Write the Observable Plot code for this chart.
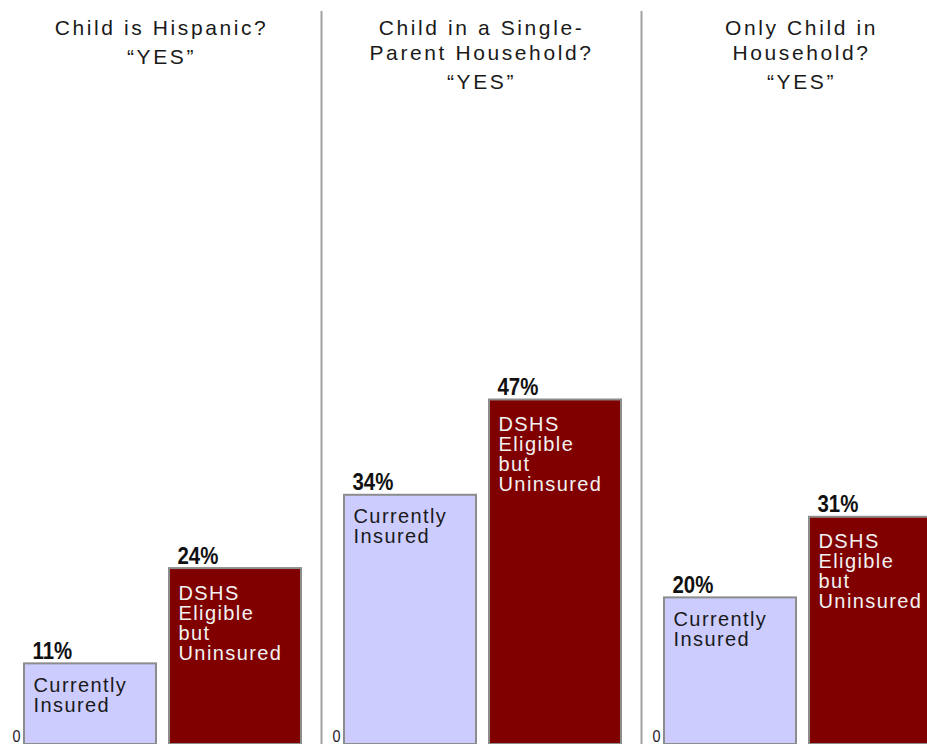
<!DOCTYPE html>
<html>
<head>
<meta charset="utf-8">
<script src="https://cdn.jsdelivr.net/npm/d3@7"></script>
<script src="https://cdn.jsdelivr.net/npm/@observablehq/plot@0.6"></script>
<style>
  html, body { margin: 0; padding: 0; background: #fff; overflow: hidden; width: 927px; height: 744px; }
  #chart { width: 927px; height: 744px; overflow: hidden; }
  g[font-size="21"] text { letter-spacing: 2.6px; }
  g[font-size="20"] text { letter-spacing: 1.4px; }
</style>
</head>
<body>
<div id="chart"></div>
<script>
// ---- data ----
const groups = ["Child is Hispanic?", "Child in a Single-Parent Household?", "Only Child in Household?"];
const titleLines = [["Child is Hispanic?"], ["Child in a Single-", "Parent Household?"], ["Only Child in", "Household?"]];
const answer = "\u201CYES\u201D";
const series = ["Currently Insured", "DSHS Eligible but Uninsured"];
const seriesLabels = ["Currently\nInsured", "DSHS\nEligible\nbut\nUninsured"];
const insured = [11, 34, 20];
const eligible = [24, 47, 31];
const yTicks = [0];

// ---- table built from the arrays ----
const rows = groups.flatMap((g, i) => [
  {group: g, series: series[0], value: insured[i]},
  {group: g, series: series[1], value: eligible[i]}
]);
const tickRows = groups.flatMap(g => yTicks.map(t => ({group: g, tick: t})));

const fxRange = [1, 961];
const xRange = [23, 300];
const xPadInner = 0.09;
const xStep = (xRange[1] - xRange[0]) / (series.length - xPadInner);
const xBand = xStep * (1 - xPadInner);
const colors = ["#CCCCFF", "#800000"];
const labelFills = ["#1a1a1a", "#f2f2f2"];
const labelDy = [14, 17];

const labelMark = (k) => Plot.text(rows.filter(d => d.series === series[k]), {
  fx: "group", x: "series", y: "value",
  text: () => seriesLabels[k],
  textAnchor: "start", lineAnchor: "top", dx: -xBand / 2 + 9, dy: labelDy[k],
  fontFamily: "Liberation Sans, Arial, sans-serif", fontSize: 20, lineHeight: 1,
  fill: labelFills[k]
});

const chart = Plot.plot({
  width: 927,
  height: 744,
  marginTop: 11, marginBottom: 0, marginLeft: 0, marginRight: 0,
  style: {background: "#fff", fontFamily: "Liberation Sans, Arial, sans-serif"},
  fx: {domain: groups, range: fxRange, padding: 0, axis: null},
  x: {domain: series, range: xRange, paddingInner: xPadInner, paddingOuter: 0, axis: null},
  y: {domain: [0, 100], axis: null},
  color: {domain: series, range: colors},
  marks: [
    Plot.ruleX(groups.slice(1), {fx: d => d, x: () => series[0], dx: -(xRange[0] + xBand / 2), stroke: "#a0a0a0", strokeWidth: 2}),
    Plot.barY(rows, {fx: "group", x: "series", y: "value", fill: "series", stroke: "#8c8c8c", strokeWidth: 2}),
    Plot.text(rows, {
      fx: "group", x: "series", y: "value", text: d => d.value + "%",
      textAnchor: "start", lineAnchor: "bottom", dx: -xBand / 2 + 8, dy: -5,
      fontFamily: "Liberation Sans, Arial, sans-serif", fontWeight: "bold", fontSize: 24, fill: "#111"
    }),
    labelMark(0),
    labelMark(1),
    Plot.text(groups, {
      fx: d => d, text: (d, i) => titleLines[i].join("\n"),
      frameAnchor: "top", lineAnchor: "top", dy: 6,
      fontSize: 21, lineHeight: 25 / 21, fill: "#1a1a1a"
    }),
    Plot.text(groups, {
      fx: d => d, text: (d, i) => "\u00a0\n".repeat(titleLines[i].length) + answer,
      frameAnchor: "top", lineAnchor: "top", dy: 10,
      fontSize: 21, lineHeight: 25 / 21, fill: "#1a1a1a"
    }),
    Plot.text(tickRows, {
      fx: "group", y: "tick", text: d => String(d.tick),
      frameAnchor: "left", textAnchor: "middle", lineAnchor: "bottom", dx: 15, dy: -3,
      fontFamily: "Liberation Sans, Arial, sans-serif", fontSize: 17, fill: "#222"
    })
  ]
});
document.getElementById("chart").appendChild(chart);

// condense the percentage and zero labels (narrow face look)
d3.select(chart).selectAll('g[font-size="24"] text, g[font-size="17"] text').each(function () {
  const w = this.getComputedTextLength();
  this.setAttribute("textLength", (w * 0.85).toFixed(1));
  this.setAttribute("lengthAdjust", "spacingAndGlyphs");
});
</script>
</body>
</html>
